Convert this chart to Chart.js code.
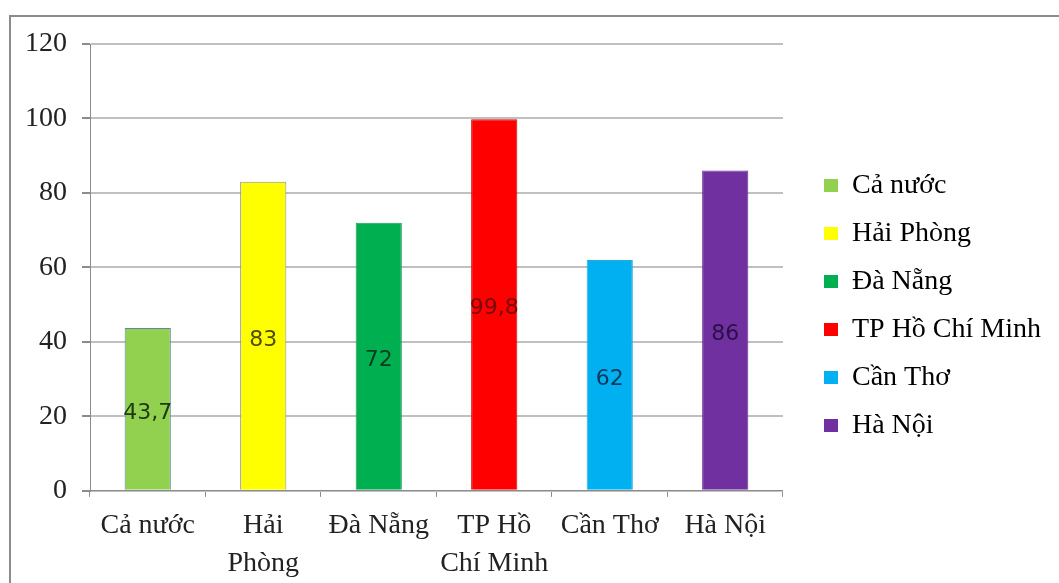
<!DOCTYPE html>
<html>
<head>
<meta charset="utf-8">
<script src="https://cdn.jsdelivr.net/npm/chart.js@4/dist/chart.umd.min.js"></script>
<style>
    html, body { margin: 0; padding: 0; background: #fff; overflow: hidden; }
    #frame {
        position: absolute; left: 9px; top: 15px;
        width: 1070px; height: 600px;
        border: 2px solid #8c8c8c;
        box-sizing: border-box;
    }
    #wrap { position: absolute; left: 0; top: 0; width: 1059px; height: 593px; }
</style>
</head>
<body>
<div id="frame"></div>
<div id="wrap"><canvas id="chart"></canvas></div>
<script>
// Data
const categories = ['Cả nước', 'Hải Phòng', 'Đà Nẵng', 'TP Hồ Chí Minh', 'Cần Thơ', 'Hà Nội'];
const tickLabels = [['Cả nước'], ['Hải', 'Phòng'], ['Đà Nẵng'], ['TP Hồ', 'Chí Minh'], ['Cần Thơ'], ['Hà Nội']];
const values = [43.7, 83, 72, 99.8, 62, 86];
const yTicks = [0, 20, 40, 60, 80, 100, 120];

// Colours
const barColors = ['#92d050', '#ffff00', '#00b050', '#ff0000', '#00b0f0', '#7030a0'];
const barBorders = ['#5f86a8', '#8a8aa8', '#1f9a55', '#d00000', '#2aa8e0', '#6a2e98'];
const valueColors = ['#1f3a10', '#4f4a00', '#0a3d22', '#7a0a0a', '#0c3a5c', '#2b0f48'];

const serif = "'Liberation Serif', 'Times New Roman', serif";

// draws the value in the middle of each bar
const valueLabels = {
    id: 'valueLabels',
    afterDatasetsDraw(chart) {
        const ctx = chart.ctx;
        const meta = chart.getDatasetMeta(0);
        ctx.save();
        ctx.font = "22px 'DejaVu Sans', sans-serif";
        ctx.textAlign = 'center';
        ctx.textBaseline = 'middle';
        meta.data.forEach((bar, i) => {
            ctx.fillStyle = valueColors[i];
            const text = String(values[i]).replace('.', ',');
            ctx.fillText(text, bar.x, (bar.y + bar.base) / 2 + 4);
        });
        ctx.restore();
    }
};

// leaves some room between the plot and the legend, and lifts the legend a bit
const legendShift = {
    id: 'legendShift',
    beforeInit(chart) {
        const fit = chart.legend.fit;
        chart.legend.fit = function () {
            fit.call(this);
            this.width += 21;
        };
    },
    afterLayout(chart) {
        const l = chart.legend;
        l.left += 21; l.right += 21;
        l.top -= 13; l.bottom -= 13;
    }
};

new Chart(document.getElementById('chart').getContext('2d'), {
    type: 'bar',
    data: {
        labels: tickLabels,
        datasets: [{
            data: values,
            backgroundColor: barColors,
            borderColor: barBorders,
            borderWidth: 1,
            barPercentage: 0.8,
            categoryPercentage: 0.5
        }]
    },
    options: {
        responsive: true,
        maintainAspectRatio: false,
        animation: false,
        layout: { padding: { top: 44, left: 10, right: 8, bottom: 0 } },
        plugins: {
            tooltip: { enabled: false },
            legend: {
                position: 'right',
                align: 'center',
                labels: {
                    color: '#222',
                    font: { family: serif, size: 28 },
                    boxWidth: 14,
                    boxHeight: 13,
                    padding: 20,
                    generateLabels: () => categories.map((name, i) => ({
                        text: name,
                        fillStyle: barColors[i],
                        strokeStyle: barColors[i],
                        lineWidth: 0,
                        hidden: false,
                        index: i
                    }))
                }
            }
        },
        scales: {
            x: {
                grid: {
                    drawOnChartArea: false,
                    drawTicks: true,
                    tickLength: 6,
                    color: '#8c8c8c'
                },
                border: { color: '#8c8c8c' },
                ticks: {
                    color: '#222',
                    font: { family: serif, size: 28, lineHeight: 1.36 },
                    maxRotation: 0,
                    autoSkip: false,
                    padding: 10
                }
            },
            y: {
                min: 0,
                max: 120,
                afterBuildTicks: axis => { axis.ticks = yTicks.map(v => ({ value: v })); },
                grid: {
                    color: '#c0c0c0',
                    lineWidth: 2,
                    tickLength: 8,
                    tickColor: '#8c8c8c'
                },
                border: { color: '#8c8c8c', width: 1 },
                ticks: {
                    color: '#222',
                    font: { family: serif, size: 28 },
                    padding: 15
                }
            }
        }
    },
    plugins: [valueLabels, legendShift]
});
</script>
</body>
</html>
